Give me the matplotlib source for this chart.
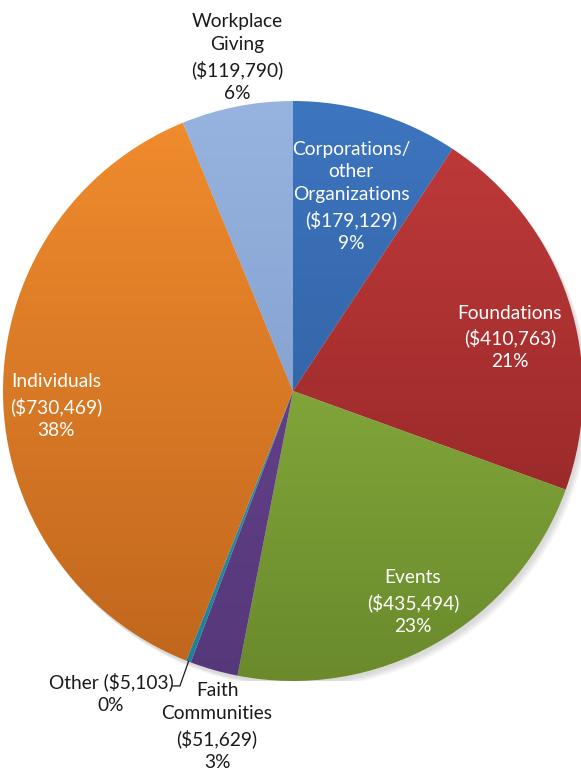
import numpy as np
import matplotlib
matplotlib.use("Agg")
import matplotlib.pyplot as plt
from matplotlib.colors import to_rgb

# ---- data ----
categories = ["Corporations/\nother\nOrganizations", "Foundations", "Events",
              "Faith\nCommunities", "Other", "Individuals", "Workplace\nGiving"]
amounts = [179129, 410763, 435494, 51629, 5103, 730469, 119790]
amount_labels = ["($179,129)", "($410,763)", "($435,494)", "($51,629)",
                 "($5,103)", "($730,469)", "($119,790)"]
pct_labels = ["9%", "21%", "23%", "3%", "0%", "38%", "6%"]

# ---- style ----
top_colors = ["#3d75bf", "#c23b3b", "#97bf47", "#6e4796", "#2ea6c6", "#f28c2e", "#97b4e0"]
bot_colors = ["#2b5794", "#8a2222", "#6a8a2c", "#56387a", "#1f7f99", "#bf661d", "#7792c4"]
text_colors = ["white", "white", "white", "#1a1a1a", "#1a1a1a", "white", "#1a1a1a"]
# label anchor positions in pie-radius units
label_pos = [(0.200, 0.672), (0.748, 0.184), (0.414, -0.728), (-0.262, -1.157),
             (-0.628, -1.041), (-0.817, -0.052), (-0.193, 1.150)]

plt.rcParams['font.family'] = ['Lato', 'DejaVu Sans']

fig = plt.figure(figsize=(5.81, 7.70), dpi=100)
ax = fig.add_axes([3/581, 89/770, 580/581, 580/770])
ax.set_xlim(-1, 1)
ax.set_ylim(-1, 1)
ax.set_aspect('equal')
ax.axis('off')

# soft shadow
for k in range(6):
    sh = plt.Circle((0.006 + 0.003*k, -0.010 - 0.003*k), 1.0, color='#808080',
                    alpha=0.05, lw=0, zorder=0)
    ax.add_patch(sh)

wedges, _ = ax.pie(amounts, startangle=90, counterclock=False, radius=1.0,
                   colors=top_colors, wedgeprops=dict(linewidth=0))

N = 256
t = np.linspace(0, 1, N)[:, None]
for w, ct, cb in zip(wedges, top_colors, bot_colors):
    a = np.array(to_rgb(ct)); b = np.array(to_rgb(cb))
    grad = (a[None, :] * (1 - t) + b[None, :] * t)[:, None, :]
    w.set_facecolor('none')
    im = ax.imshow(grad, extent=[-1, 1, -1, 1], origin='upper', aspect='auto',
                   zorder=1, interpolation='bilinear')
    im.set_clip_path(w)

ax.set_xlim(-1, 1)
ax.set_ylim(-1, 1)

for i, (cat, am, pc) in enumerate(zip(categories, amounts, pct_labels)):
    x, y = label_pos[i]
    if cat == "Other":
        txt = f"{cat} {amount_labels[i]}\n{pc}"
    else:
        txt = f"{cat}\n{amount_labels[i]}\n{pc}"
    ax.text(x, y, txt, ha='center', va='center', color=text_colors[i],
            fontsize=13.8, linespacing=1.42, zorder=5, clip_on=False)

# leader line for "Other"
w = wedges[4]
mid = np.deg2rad((w.theta1 + w.theta2) / 2)
ex, ey = np.cos(mid), np.sin(mid)
ax.plot([ex, -0.390, -0.414], [ey, -1.017, -1.017], color='#1a1a1a', lw=0.9,
        zorder=5, clip_on=False)

fig.savefig("out.png", dpi=100, facecolor='white')
